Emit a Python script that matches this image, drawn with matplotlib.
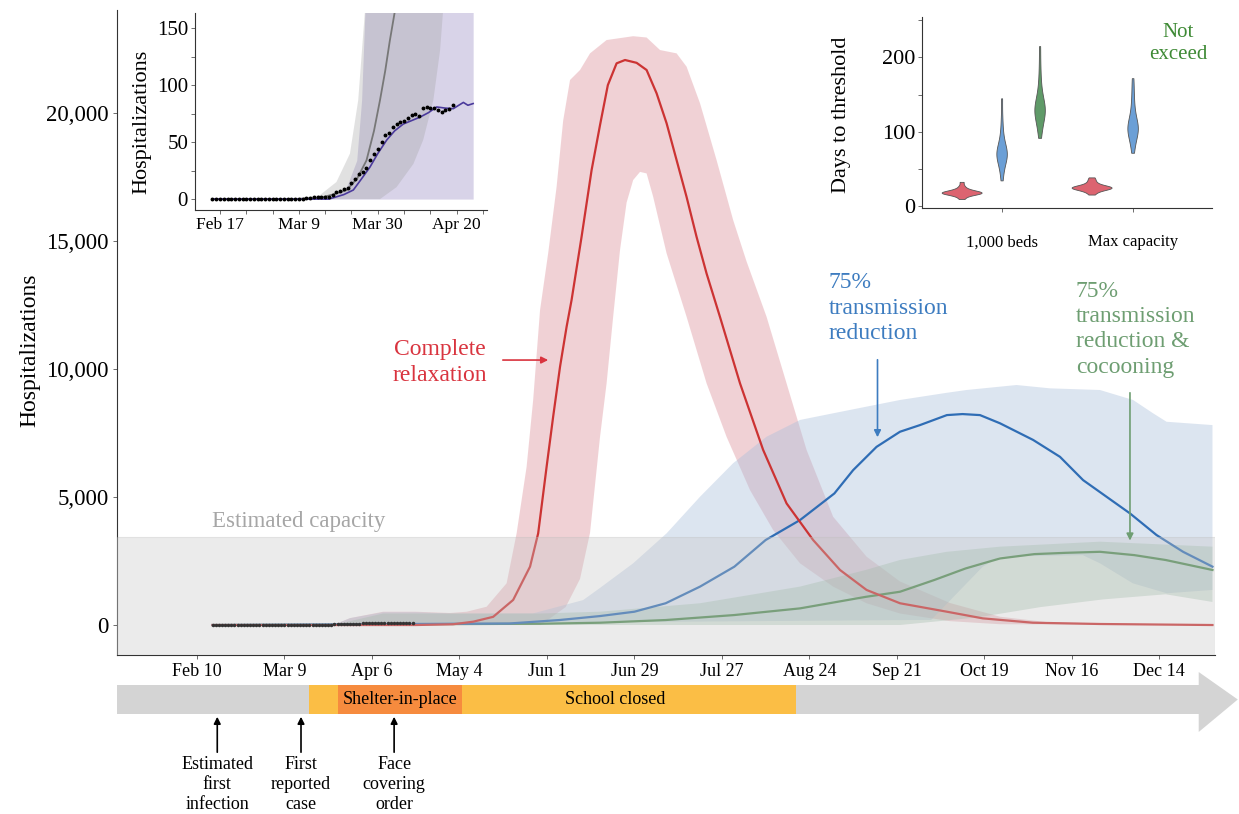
import matplotlib
matplotlib.use("Agg")
import matplotlib.pyplot as plt
from matplotlib.patches import Rectangle, Polygon
import numpy as np

plt.rcParams['font.family'] = ['Liberation Serif', 'DejaVu Serif']

# dni liczone od 1 stycznia 2020 (Feb 10 = 40)
tick_days = [40, 68, 96, 124, 152, 180, 208, 236, 264, 292, 320, 348]
tick_labels = ["Feb 10", "Mar 9", "Apr 6", "May 4", "Jun 1", "Jun 29",
               "Jul 27", "Aug 24", "Sep 21", "Oct 19", "Nov 16", "Dec 14"]

# obserwowane hospitalizacje (dziennie od dnia 45)
obs_start = 45
obs = [0, 0, 0, 0, 0, 0, 0, 0, 0, 0, 0, 0, 0, 0, 0, 0, 0, 0, 0, 0, 0, 0, 0, 0, 0,
       1, 1, 2, 2, 2, 2, 2, 4,
       6, 7, 9, 10, 14, 18, 22, 24, 27, 34, 40, 44, 50, 56, 58, 63, 66, 68,
       69, 71, 74, 75, 73, 80, 81, 80, 80, 78, 77, 78, 79, 83]

# complete relaxation
red_day = [45, 110, 122, 128.4, 134.8, 141.2, 146.6, 149.2, 151.9, 154, 156.2, 158.3, 159.9,
           163.1, 166.3, 169, 171.5, 174.3, 177, 180.7, 183.9, 187.1, 190.3, 193.5, 196.7,
           199.9, 203.1, 207.4, 213.8, 221.2, 228.7, 237.2, 245.8, 254.3, 265, 280, 291.5,
           307.5, 329, 365]
red_mid = [0, 0, 30, 130, 320, 980, 2280, 3580, 6180, 8140, 10090, 11650, 12700,
           15170, 17770, 19530, 21090, 21940, 22070, 21960, 21680, 20770, 19600, 18160, 16720,
           15160, 13730, 12030, 9440, 6840, 4750, 3320, 2150, 1370, 850, 520, 260,
           90, 40, 0]
red_hi_day = [83.6, 89, 99.6, 110, 121, 126.3, 132.7, 139.1, 142.3, 145.5, 147.6, 149.8,
              152.4, 155.1, 157.2, 159.4, 162.6, 165.8, 171.1, 179.6, 183.9, 188.2, 193.5,
              196.7, 201, 206.3, 211.6, 215.9, 222.3, 228.7, 235.1, 243.6, 254.3, 265, 281,
              297, 313, 365]
red_hi = [0, 270, 520, 520, 470, 520, 715, 1630, 3580, 6180, 8790, 12300,
          14520, 17120, 19700, 21290, 21680, 22330, 22850, 23000, 22950, 22460, 22330,
          21810, 20380, 18160, 15820, 14200, 12040, 9440, 6840, 4230, 2670, 1700, 860,
          325, 100, 0]
red_lo_day = [45, 150, 158, 162.6, 165.8, 169, 171.1, 173.2, 175.4, 177.5, 179.6, 181.8,
              183.9, 186, 190.3, 196.7, 203.1, 209.5, 217, 224.4, 233, 243.6, 254.3, 265,
              281, 297, 365]
red_lo = [0, 0, 700, 1800, 3600, 7350, 9440, 12040, 14650, 16500, 17380, 17700,
          17640, 16730, 14520, 12040, 9440, 7350, 5270, 3710, 2410, 1500, 850, 450,
          150, 30, 0]

# 75% transmission reduction
blue_day = [45, 140, 156, 169, 180, 190, 201, 212, 222, 233, 244, 250, 257.5, 265, 271.4,
            280, 285, 290.6, 297, 307.6, 316.2, 323.6, 331.1, 338.6, 347.1, 355.6, 365]
blue_mid = [0, 60, 195, 350, 520, 850, 1500, 2280, 3320, 4100, 5140, 6050, 6960, 7550, 7810,
            8200, 8240, 8200, 7880, 7230, 6570, 5660, 5010, 4360, 3515, 2860, 2280]
blue_hi_day = [83.6, 89, 99.6, 110, 121, 135, 147.6, 163.6, 169, 179.6, 190.3, 201, 211.6,
               222.3, 233, 243.6, 254.3, 265, 279.9, 286.3, 302.3, 313, 329, 339.6, 346,
               350.3, 365]
blue_hi = [0, 270, 500, 500, 450, 450, 455, 975, 1450, 2410, 3580, 5010, 6320,
           7355, 8010, 8270, 8530, 8790, 9070, 9180, 9375, 9245, 9180, 8790, 8270,
           7940, 7810]
blue_lo_day = [45, 275, 291.5, 297, 323.5, 329, 339.5, 350.4, 365]
blue_lo = [0, 200, 2280, 2670, 2730, 2410, 1630, 1240, 1370]

# 75% transmission reduction & cocooning
green_day = [45, 150, 169, 190, 212, 233, 254, 265, 276, 286, 297, 308, 318, 329, 340, 350, 365]
green_mid = [0, 50, 90, 195, 390, 650, 1100, 1300, 1760, 2210, 2600, 2770, 2820, 2860, 2730,
             2540, 2150]
green_hi_day = [83.6, 99.6, 121, 150, 169, 201, 233, 254, 265, 280, 297, 329, 365]
green_hi = [0, 450, 450, 450, 520, 850, 1500, 2150, 2540, 2860, 3060, 3255, 3060]
green_lo_day = [45, 265, 290, 310, 330, 350, 365]
green_lo = [0, 0, 300, 700, 1000, 1200, 900]

capacity = 3450

# wstawka: dopasowanie i projekcja wykładnicza
fit_day = [45, 76, 80, 82.5, 84.5, 86.9, 89, 91.4, 93.5, 95.8, 98, 100.2, 102.5, 104.7, 107,
           109.1, 111.8, 113, 114.4]
fit_val = [0, 0, 4, 8, 17, 28, 40, 52, 60, 66, 69, 72, 76, 81, 80, 79.5, 85, 82.5, 84]
fit_hi_day = [45, 76.4, 80.7, 83.4, 84.7, 85.6, 87, 114.4]
fit_hi = [0, 0, 10.8, 34, 87, 166, 250, 250]
proj_day = [45, 66, 73.6, 77, 80.7, 83.5, 86, 88, 89.6, 91, 92.2, 93.6, 95]
proj_val = [0, 0, 1, 4, 7.9, 18, 34, 60, 87, 113, 139, 166, 200]
proj_hi_day = [45, 66.5, 73.6, 78, 81.6, 83.8, 85.6, 87, 114.4]
proj_hi = [0, 0, 3.5, 15, 40, 87, 166, 250, 250]
proj_lo_day = [45, 89.6, 94, 98.5, 101.1, 103.8, 105.6, 106.4, 108, 114.4]
proj_lo = [0, 0, 10.5, 31, 52, 87, 131, 166, 250, 250]
inset_ticks = [47, 68, 89, 110]
inset_labels = ["Feb 17", "Mar 9", "Mar 30", "Apr 20"]

groups = ["1,000 beds", "Max capacity"]
red_beds = [10, 13, 15, 16, 17, 17, 18, 18, 18, 19, 19, 19, 20, 20, 21, 22, 23, 25, 28, 33]
blue_beds = [35, 45, 52, 58, 62, 65, 67, 68, 70, 71, 72, 74, 76, 79, 83, 88, 95, 105, 120, 145]
green_beds = [92, 100, 108, 114, 118, 122, 125, 127, 129, 130, 132, 134, 137, 140, 145, 152,
              160, 172, 190, 215]
red_max = [16, 19, 21, 22, 23, 24, 24, 25, 25, 25, 26, 26, 27, 27, 28, 29, 31, 33, 36, 39]
blue_max = [72, 80, 87, 92, 96, 99, 101, 103, 105, 106, 108, 110, 113, 117, 122, 128, 136,
            146, 158, 172]

# oś czasu
school_closed = (75.8, 231.7)
shelter = (85, 124.9)
events = [(46.5, "Estimated\nfirst\ninfection"),
          (73.3, "First\nreported\ncase"),
          (103.1, "Face\ncovering\norder")]

RED, BLUE, GREEN = '#cc3333', '#2f6db5', '#4f8a52'
XLIM = (14.4, 365.8)

fig = plt.figure(figsize=(12.39, 8.14), dpi=100)

# ---- główny wykres ----
ax = fig.add_axes([0.0944, 0.1953, 0.8862, 0.7924])
ax.fill(np.r_[red_hi_day, red_lo_day[::-1]], np.r_[red_hi, red_lo[::-1]],
        color='#e3a5ad', alpha=0.5, lw=0, zorder=1)
ax.fill(np.r_[blue_hi_day, blue_lo_day[::-1]], np.r_[blue_hi, blue_lo[::-1]],
        color='#a9bedb', alpha=0.4, lw=0, zorder=1)
ax.fill(np.r_[green_hi_day, green_lo_day[::-1]], np.r_[green_hi, green_lo[::-1]],
        color='#8fb39a', alpha=0.35, lw=0, zorder=1)
ax.plot(green_day, green_mid, color=GREEN, lw=1.6, zorder=2)
ax.plot(blue_day, blue_mid, color=BLUE, lw=1.6, zorder=2)
ax.plot(red_day, red_mid, color=RED, lw=1.6, zorder=2)

ax.axhspan(-2000, capacity, facecolor='#c8c8c8', alpha=0.35, edgecolor='#bdbdbd',
           lw=0.8, zorder=3)
obs_days = np.arange(obs_start, obs_start + len(obs))
ax.plot(obs_days, obs, 'o', color='#333333', ms=1.5, zorder=4)

ax.text(44.8, 4060, "Estimated capacity", color='#a6a6a6', fontsize=16.5,
        ha='left', va='center', zorder=5)
ax.text(117.8, 10250, "Complete\nrelaxation", color='#d9343f', fontsize=17,
        ha='center', va='center', linespacing=1.27)
ax.annotate('', xy=(153.3, 10350), xytext=(137, 10350),
            arrowprops=dict(arrowstyle='-|>', color='#d9343f', lw=1.2, mutation_scale=10))
ax.text(242.2, 12380, "75%\ntransmission\nreduction", color='#3d7cc0', fontsize=17,
        ha='left', va='center', linespacing=1.27)
ax.annotate('', xy=(257.8, 7226), xytext=(257.8, 10470),
            arrowprops=dict(arrowstyle='-|>', color='#3d7cc0', lw=1.2, mutation_scale=10))
ax.text(321.3, 11560, "75%\ntransmission\nreduction &\ncocooning", color='#6e9e72',
        fontsize=17, ha='left', va='center', linespacing=1.27)
ax.annotate('', xy=(338.6, 3190), xytext=(338.6, 9180),
            arrowprops=dict(arrowstyle='-|>', color='#6e9e72', lw=1.2, mutation_scale=10))

ax.set_xlim(*XLIM)
ax.set_ylim(-1172, 24023)
ax.set_xticks(tick_days)
ax.set_xticklabels(tick_labels, fontsize=13)
ax.set_yticks([0, 5000, 10000, 15000, 20000])
ax.set_yticklabels(["0", "5,000", "10,000", "15,000", "20,000"], fontsize=16.5)
ax.tick_params(axis='both', length=3, width=0.6, pad=3, color='#555555')
ax.set_ylabel("Hospitalizations", fontsize=17)
ax.yaxis.set_label_coords(-0.07, 0.473)
for s in ['top', 'right']:
    ax.spines[s].set_visible(False)
for s in ['left', 'bottom']:
    ax.spines[s].set_linewidth(0.8)
    ax.spines[s].set_color('#333333')

# ---- wstawka: dopasowanie ----
ins = fig.add_axes([0.1574, 0.742, 0.2357, 0.242])
ins.fill_between(fit_hi_day, 0, fit_hi, color='#b3a9d3', alpha=0.5, lw=0)
ins.fill(np.r_[proj_hi_day, proj_lo_day[::-1]], np.r_[proj_hi, proj_lo[::-1]],
         color='#9e9e9e', alpha=0.3, lw=0)
ins.plot(proj_day, proj_val, color='#777777', lw=1.3)
ins.plot(fit_day, fit_val, color='#4b3a9c', lw=1.2)
ins.plot(obs_days, obs, 'o', color='black', ms=1.8)
ins.set_xlim(40.35, 118.1)
ins.set_ylim(-9.6, 163.6)
ins.set_xticks(inset_ticks)
ins.set_xticklabels(inset_labels, fontsize=12.5)
ins.set_xticks(np.arange(47, 118, 7), minor=True)
ins.set_yticks([0, 50, 100, 150])
ins.set_yticklabels(["0", "50", "100", "150"], fontsize=15)
ins.set_yticks([25, 75, 125], minor=True)
ins.tick_params(which='both', length=3, width=0.6, pad=2, color='#555555')
ins.set_ylabel("Hospitalizations", fontsize=16)
ins.yaxis.set_label_coords(-0.15, 0.448)
for s in ['top', 'right']:
    ins.spines[s].set_visible(False)
for s in ['left', 'bottom']:
    ins.spines[s].set_linewidth(0.8)
    ins.spines[s].set_color('#333333')

# ---- wstawka: dni do progu ----
vio = fig.add_axes([0.7441, 0.7445, 0.234, 0.2346])
vdata = [red_beds, blue_beds, green_beds, red_max, blue_max]
vpos = [0.695, 1.0, 1.29, 1.687, 2.0]
vwid = [0.305, 0.08, 0.08, 0.305, 0.08]
vcol = ['#dc6470', '#6b9fd6', '#5f9a68', '#dc6470', '#6b9fd6']
parts = vio.violinplot(vdata, positions=vpos, widths=vwid, showextrema=False,
                       bw_method=0.45)
for body, c in zip(parts['bodies'], vcol):
    body.set_facecolor(c)
    body.set_edgecolor('#555555')
    body.set_linewidth(0.6)
    body.set_alpha(1)
vio.text(2.346, 219, "Not\nexceed", color='#3e8a35', fontsize=15, ha='center',
         va='center', linespacing=1.2)
vio.set_xlim(0.392, 2.605)
vio.set_ylim(-2, 254)
vio.set_xticks([1, 2])
vio.set_xticklabels(groups, fontsize=12)
vio.set_yticks([0, 100, 200])
vio.set_yticklabels(["0", "100", "200"], fontsize=16)
vio.set_yticks([50, 150, 250], minor=True)
vio.tick_params(which='both', length=3, width=0.6, color='#555555')
vio.tick_params(axis='x', pad=16)
vio.tick_params(axis='y', pad=2)
vio.set_ylabel("Days to threshold", fontsize=16)
vio.yaxis.set_label_coords(-0.245, 0.49)
for s in ['top', 'right']:
    vio.spines[s].set_visible(False)
for s in ['left', 'bottom']:
    vio.spines[s].set_linewidth(0.8)
    vio.spines[s].set_color('#333333')

# ---- oś czasu ----
tl = fig.add_axes([0.0944, 0.0, 0.8862, 154 / 814])
tl.set_xlim(*XLIM)
tl.set_ylim(0, 154)
tl.axis('off')
bar_lo, bar_h = 100, 29
head_start, head_tip = 360.6, 373.1
tl.add_patch(Rectangle((XLIM[0], bar_lo), head_start - XLIM[0], bar_h,
                       color='#d4d4d4', lw=0, clip_on=False))
tl.add_patch(Polygon([(head_start, 82), (head_tip, bar_lo + bar_h / 2), (head_start, 142)],
                     closed=True, color='#d4d4d4', lw=0, clip_on=False))
tl.add_patch(Rectangle((school_closed[0], bar_lo), school_closed[1] - school_closed[0], bar_h,
                       color='#fbbe45', lw=0))
tl.add_patch(Rectangle((shelter[0], bar_lo), shelter[1] - shelter[0], bar_h,
                       color='#f68b3e', lw=0))
tl.text(sum(shelter) / 2, bar_lo + bar_h / 2, "Shelter-in-place", fontsize=13,
        ha='center', va='center')
tl.text(173.8, bar_lo + bar_h / 2, "School closed", fontsize=13, ha='center', va='center')
for day, label in events:
    tl.annotate('', xy=(day, bar_lo), xytext=(day, 59),
                arrowprops=dict(arrowstyle='-|>', color='black', lw=1.2, mutation_scale=10))
    tl.text(day, 58, label, fontsize=13, ha='center', va='top', linespacing=1.22)

fig.savefig("out.png", dpi=100)
